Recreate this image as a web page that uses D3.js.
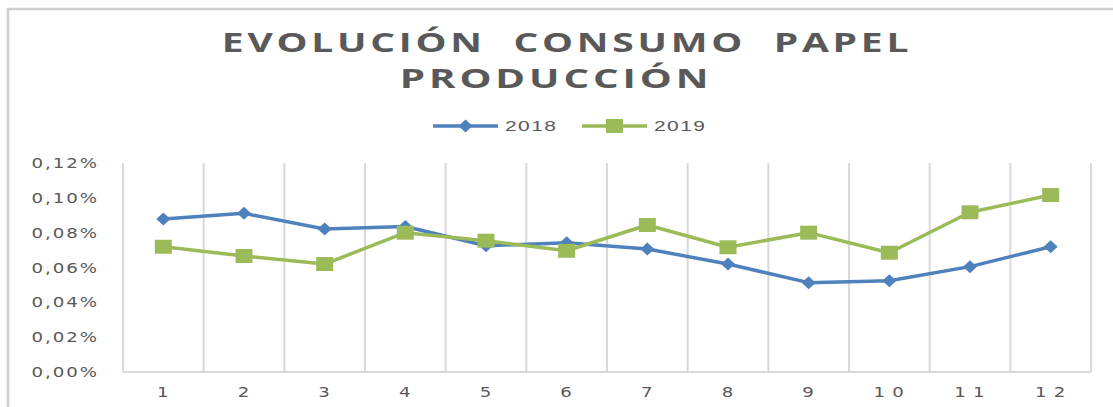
<!DOCTYPE html>
<html>
<head>
<meta charset="utf-8">
<script src="https://cdn.jsdelivr.net/npm/d3@7.9.0/dist/d3.min.js"></script>
<style>
  html, body { margin: 0; padding: 0; background: #fff; }
  svg { display: block; }
  text { white-space: pre; }
</style>
</head>
<body>
<svg id="chart" width="1113" height="407"></svg>
<script>
// data (values are percent)
const months = ['1','2','3','4','5','6','7','8','9','10','11','12'];
const v2018 = [0.0878, 0.0911, 0.0821, 0.0835, 0.0725, 0.0742, 0.0706, 0.0620, 0.0513, 0.0524, 0.0605, 0.0719];
const v2019 = [0.0719, 0.0666, 0.0620, 0.0800, 0.0754, 0.0696, 0.0844, 0.0716, 0.0800, 0.0685, 0.0917, 0.1016];
const yTicks = [0, 0.02, 0.04, 0.06, 0.08, 0.10, 0.12];
const seriesNames = ['2018', '2019'];
const colors = ['#4f81bd', '#9bbb59'];

const W = 1113, H = 407;
const margin = { left: 123, right: W - 1091, top: 163, bottom: H - 372 };
const grid = '#d9d9d9', txt = '#595959';
const stretch = 1.3; // text in the picture is stretched sideways

const svg = d3.select('#chart');

// outer chart border (left + top edges visible)
svg.append('line').attr('x1', 8).attr('x2', 8).attr('y1', 8).attr('y2', H)
  .attr('stroke', '#cfcfcf').attr('stroke-width', 2.5);
svg.append('line').attr('x1', 8).attr('x2', W).attr('y1', 9).attr('y2', 9)
  .attr('stroke', '#cfcfcf').attr('stroke-width', 2.5);

const x = d3.scaleBand().domain(months).range([margin.left, W - margin.right]);
const y = d3.scaleLinear().domain([0, 0.12]).range([H - margin.bottom, margin.top]);

// helper: stretched text
function stext(g, tx, ty, str, opts) {
  return g.append('text')
    .attr('transform', `translate(${tx},${ty}) scale(${opts.sx || stretch},1)`)
    .attr('text-anchor', opts.anchor || 'middle')
    .attr('font-family', opts.font || 'DejaVu Sans')
    .attr('font-size', opts.size)
    .attr('font-weight', opts.weight || 'normal')
    .attr('letter-spacing', opts.ls || 0)
    .attr('fill', txt)
    .text(str);
}

// vertical gridlines at category edges
const edges = months.map(m => x(m)).concat([x.range()[1]]);
svg.append('g').selectAll('line').data(edges).join('line')
  .attr('x1', d => d).attr('x2', d => d)
  .attr('y1', y(0.12)).attr('y2', y(0))
  .attr('stroke', grid).attr('stroke-width', 2);

// category axis line
svg.append('line')
  .attr('x1', x.range()[0]).attr('x2', x.range()[1])
  .attr('y1', y(0)).attr('y2', y(0))
  .attr('stroke', grid).attr('stroke-width', 2);

// y labels
const fmt = v => v.toFixed(2).replace('.', ',') + '%';
const yg = svg.append('g');
yTicks.forEach(t => {
  stext(yg, 99, y(t) + 5, fmt(t), { size: 14, anchor: 'end', ls: 1.5 });
});

// x labels
const xg = svg.append('g');
months.forEach(m => {
  stext(xg, x(m) + x.bandwidth() / 2 + 3, 397, m, { size: 14, ls: 5.5 });
});

// lines + markers
const line = d3.line()
  .x((d, i) => x(months[i]) + x.bandwidth() / 2)
  .y(d => y(d));

[v2018, v2019].forEach((vals, s) => {
  svg.append('path')
    .datum(vals)
    .attr('d', line)
    .attr('fill', 'none')
    .attr('stroke', colors[s])
    .attr('stroke-width', 3.5)
    .attr('stroke-linejoin', 'round');
});

function diamond(g, cx, cy) {
  g.append('path')
    .attr('d', `M${cx - 7},${cy} L${cx},${cy - 6.5} L${cx + 7},${cy} L${cx},${cy + 6.5} Z`)
    .attr('fill', colors[0]);
}
function square(g, cx, cy) {
  g.append('rect')
    .attr('x', cx - 8.5).attr('y', cy - 7).attr('width', 17).attr('height', 14)
    .attr('fill', colors[1]);
}

const mk = svg.append('g');
v2018.forEach((v, i) => diamond(mk, x(months[i]) + x.bandwidth() / 2, y(v)));
v2019.forEach((v, i) => square(mk, x(months[i]) + x.bandwidth() / 2, y(v)));

// title
const tg = svg.append('g');
stext(tg, 567, 52, 'EVOLUCIÓN  CONSUMO  PAPEL', { size: 26, font: 'Open Sans', weight: 700, ls: 2.5, sx: 1.5 });
stext(tg, 556, 88, 'PRODUCCIÓN', { size: 26, font: 'Open Sans', weight: 700, ls: 2.5, sx: 1.55 });

// legend
const lg = svg.append('g');
const legendItems = [
  { x0: 433, x1: 498 },
  { x0: 582, x1: 647 }
];
seriesNames.forEach((name, s) => {
  const it = legendItems[s];
  lg.append('line')
    .attr('x1', it.x0).attr('x2', it.x1).attr('y1', 126).attr('y2', 126)
    .attr('stroke', colors[s]).attr('stroke-width', 3.5);
  const cx = (it.x0 + it.x1) / 2;
  if (s === 0) diamond(lg, cx, 126); else square(lg, cx, 126);
  stext(lg, it.x1 + 7, 131, name, { size: 15, anchor: 'start', font: 'Liberation Sans', sx: 1.4, ls: 1 });
});
</script>
</body>
</html>
